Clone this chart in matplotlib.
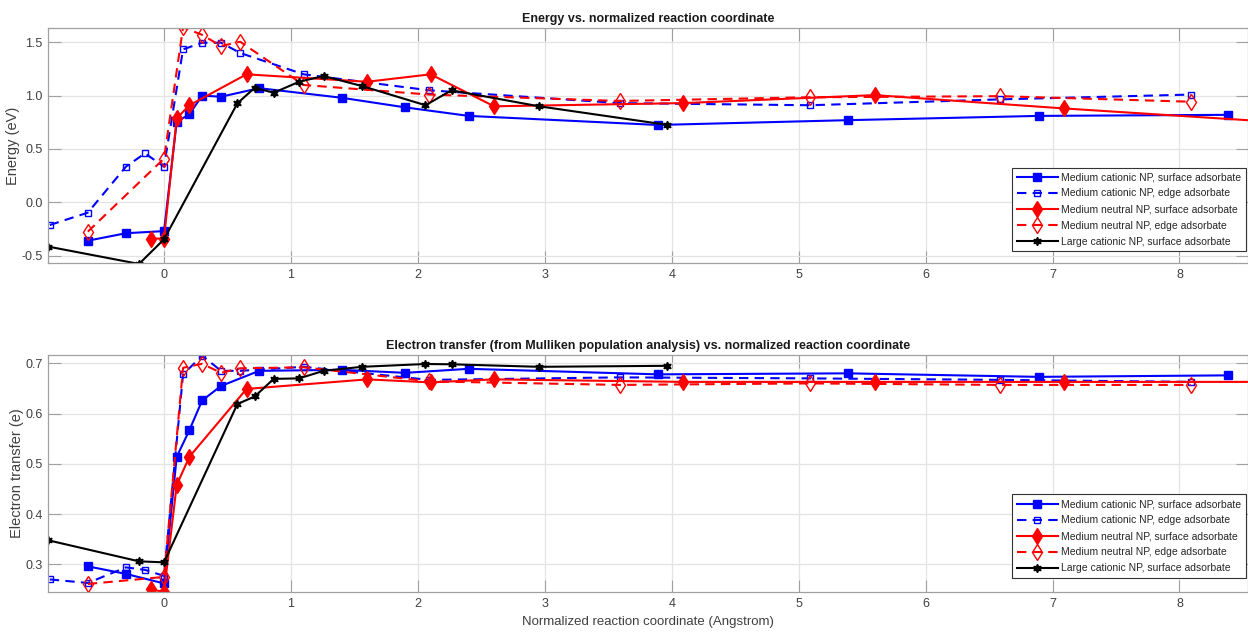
import matplotlib
matplotlib.use("Agg")
import matplotlib.pyplot as plt
from matplotlib.ticker import FormatStrFormatter

plt.rcParams['font.family'] = ['Liberation Sans', 'DejaVu Sans']

labels = ["Medium cationic NP, surface adsorbate",
          "Medium cationic NP, edge adsorbate",
          "Medium neutral NP, surface adsorbate",
          "Medium neutral NP, edge adsorbate",
          "Large cationic NP, surface adsorbate"]

# Medium cationic NP, surface adsorbate
mcs_x = [-0.6, -0.3, 0.0, 0.1, 0.2, 0.3, 0.45, 0.75, 1.4, 1.9, 2.4, 3.89, 5.39, 6.89, 8.38]
mcs_E = [-0.36, -0.29, -0.27, 0.755, 0.825, 1.0, 0.99, 1.07, 0.98, 0.89, 0.81, 0.725, 0.77, 0.81, 0.82]
mcs_T = [0.296, 0.281, 0.262, 0.514, 0.567, 0.626, 0.655, 0.685, 0.687, 0.681, 0.689, 0.678, 0.680, 0.673, 0.676]

# Medium cationic NP, edge adsorbate
mce_x = [-0.9, -0.6, -0.3, -0.15, 0.0, 0.15, 0.3, 0.45, 0.6, 1.1, 2.09, 3.59, 5.09, 6.59, 8.09]
mce_E = [-0.213, -0.097, 0.334, 0.459, 0.334, 1.434, 1.496, 1.496, 1.40, 1.20, 1.05, 0.93, 0.91, 0.965, 1.01]
mce_T = [0.270, 0.263, 0.294, 0.289, 0.277, 0.678, 0.715, 0.685, 0.685, 0.693, 0.667, 0.672, 0.670, 0.667, 0.663]

# Medium neutral NP, surface adsorbate
mns_x = [-0.1, 0.0, 0.1, 0.2, 0.65, 1.6, 2.1, 2.6, 4.09, 5.6, 7.09, 8.6]
mns_E = [-0.34, -0.34, 0.787, 0.91, 1.20, 1.13, 1.20, 0.90, 0.93, 1.005, 0.88, 0.765]
mns_T = [0.250, 0.245, 0.458, 0.514, 0.649, 0.668, 0.662, 0.668, 0.663, 0.663, 0.663, 0.663]

# Medium neutral NP, edge adsorbate
mne_x = [-0.6, 0.0, 0.15, 0.3, 0.45, 0.6, 1.1, 2.09, 3.59, 5.09, 6.59, 8.09]
mne_E = [-0.275, 0.41, 1.64, 1.57, 1.465, 1.505, 1.10, 1.01, 0.95, 0.985, 0.995, 0.943]
mne_T = [0.261, 0.275, 0.691, 0.699, 0.681, 0.690, 0.692, 0.664, 0.657, 0.660, 0.657, 0.657]

# Large cationic NP, surface adsorbate
lcs_x = [-0.914, -0.197, 0.0, 0.578, 0.715, 0.864, 1.064, 1.258, 1.56, 2.06, 2.265, 2.955, 3.96]
lcs_E = [-0.415, -0.578, -0.347, 0.928, 1.074, 1.027, 1.13, 1.184, 1.09, 0.91, 1.05, 0.90, 0.727]
lcs_T = [0.348, 0.306, 0.304, 0.619, 0.634, 0.669, 0.670, 0.685, 0.693, 0.6986, 0.698, 0.693, 0.695]

x_ticks = [0, 1, 2, 3, 4, 5, 6, 7, 8]
E_ticks = [-0.5, 0.0, 0.5, 1.0, 1.5]
T_ticks = [0.3, 0.4, 0.5, 0.6, 0.7]

title_top = "Energy vs. normalized reaction coordinate"
title_bot = "Electron transfer (from Mulliken population analysis) vs. normalized reaction coordinate"
xlabel = "Normalized reaction coordinate (Angstrom)"

fig = plt.figure(figsize=(12.48, 6.32), dpi=100)
W, H = 1248, 632
ax1 = fig.add_axes([48 / W, 1 - 263.3 / H, 1200 / W, (263.3 - 27.7) / H])
ax2 = fig.add_axes([48 / W, 1 - 592 / H, 1200 / W, (592 - 355) / H])

styles = [
    dict(color=(0, 0, 1), ls='-', marker='s', ms=5.5, mfc=(0, 0, 1), mec=(0, 0, 1), lw=1.5),
    dict(color=(0, 0, 1), ls=(0, (4.5, 3)), marker='s', ms=5.0, mfc='none', mec=(0, 0, 1), mew=1.0, lw=1.5),
    dict(color=(1, 0, 0), ls='-', marker='d', ms=8, mfc=(1, 0, 0), mec=(1, 0, 0), lw=1.5),
    dict(color=(1, 0, 0), ls=(0, (4.5, 3)), marker='d', ms=8, mfc='none', mec=(1, 0, 0), mew=1.0, lw=1.5),
    dict(color='black', ls='-', marker=(6, 1, 0), ms=6, mfc='black', mec='black', lw=1.5),
]

series_E = [(mcs_x, mcs_E), (mce_x, mce_E), (mns_x, mns_E), (mne_x, mne_E), (lcs_x, lcs_E)]
series_T = [(mcs_x, mcs_T), (mce_x, mce_T), (mns_x, mns_T), (mne_x, mne_T), (lcs_x, lcs_T)]

for ax, series, ylim, yt, ttl, ylab, legy in [
        (ax1, series_E, (-0.572, 1.637), E_ticks, title_top, "Energy (eV)", 0.051),
        (ax2, series_T, (0.245, 0.7165), T_ticks, title_bot, "Electron transfer (e)", 0.059)]:
    for (xs, ys), st, lab in zip(series, styles, labels):
        ax.plot(xs, ys, label=lab, **st)
    ax.set_xlim(-0.914, 8.54)
    ax.set_ylim(*ylim)
    ax.set_xticks(x_ticks)
    ax.set_yticks(yt)
    ax.yaxis.set_major_formatter(FormatStrFormatter('%.1f'))
    ax.grid(True, color='#e3e3e3', lw=0.9)
    ax.set_axisbelow(True)
    for sp in ax.spines.values():
        sp.set_color('#a0a0a0')
        sp.set_linewidth(0.9)
    ax.tick_params(direction='in', length=9, width=0.8, color='#a0a0a0',
                   labelcolor='#404040', labelsize=9, top=True, right=True, pad=4)
    ax.set_title(ttl, fontsize=9, fontweight='bold', color='#1a1a1a', pad=4)
    ax.set_ylabel(ylab, fontsize=10.5, color='#404040', labelpad=1)
    leg = ax.legend(loc='lower right', bbox_to_anchor=(0.9983, legy), fontsize=7.5, frameon=True,
                    fancybox=False, edgecolor='#333333', framealpha=1, handlelength=3.9,
                    handletextpad=0.35, labelspacing=0.58, borderpad=0.45, borderaxespad=0.0)
    leg.get_frame().set_linewidth(0.8)
    for t in leg.get_texts():
        t.set_color('#262626')

ax2.set_xlabel(xlabel, fontsize=9.5, color='#404040', labelpad=5)

fig.savefig("out.png", dpi=100)
